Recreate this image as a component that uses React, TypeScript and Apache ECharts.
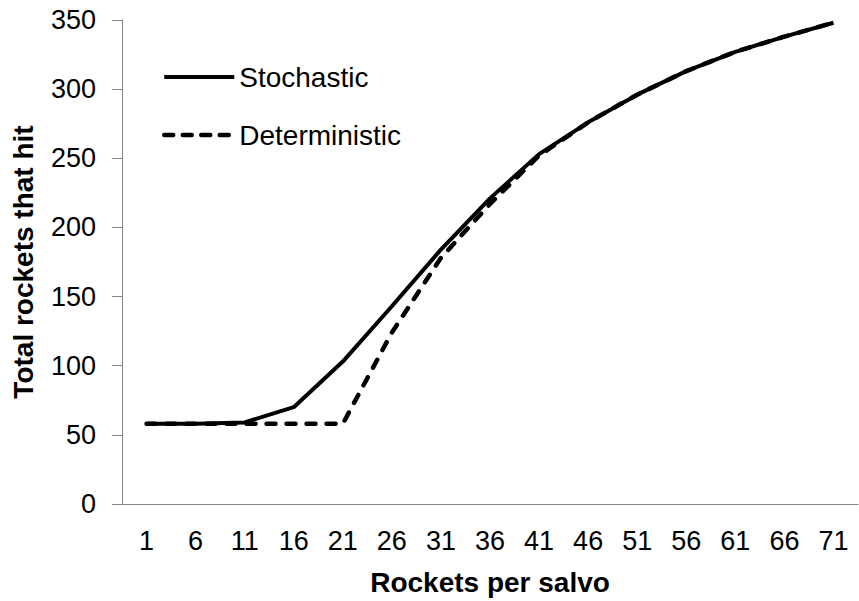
import React, { useEffect, useRef } from "react";
import * as echarts from "echarts";

const categories = ["1", "6", "11", "16", "21", "26", "31", "36", "41", "46", "51", "56", "61", "66", "71"];
const stochastic = [58, 58, 59, 70, 103, 143, 184, 221, 253, 276, 296, 313, 327, 338, 348];
const deterministic = [58, 58, 58, 58, 58, 124, 178, 217, 252, 276, 296, 313, 327, 338, 348];
const yTicks = { min: 0, max: 350, interval: 50 };

const FONT = "'Liberation Sans', Arial, sans-serif";

export default function App() {
  const ref = useRef<HTMLDivElement>(null);
  useEffect(() => {
    document.body.style.margin = "0";
    const chart = echarts.init(ref.current!, undefined, { renderer: "svg" });
    chart.setOption({
      animation: false,
      backgroundColor: "#ffffff",
      textStyle: { fontFamily: FONT },
      grid: { left: 122, right: 1, top: 20, bottom: 96, containLabel: false },
      legend: {
        orient: "vertical",
        left: 162,
        top: 62,
        padding: 0,
        itemWidth: 70,
        itemHeight: 14,
        itemGap: 28,
        itemStyle: { opacity: 0 },
        textStyle: { fontSize: 28, color: "#000", fontFamily: FONT, lineHeight: 30 },
        data: [
          { name: "Stochastic", lineStyle: { width: 4, color: "#000" } },
          { name: "Deterministic", lineStyle: { width: 4.5, color: "#000", type: [9, 9.5], cap: "round" } },
        ],
      },
      xAxis: {
        type: "category",
        data: categories,
        boundaryGap: true,
        name: "Rockets per salvo",
        nameLocation: "middle",
        nameGap: 64,
        nameTextStyle: { fontSize: 28, fontWeight: "bold", color: "#000", fontFamily: FONT },
        axisLine: { lineStyle: { color: "#868686", width: 1 } },
        axisTick: { show: false },
        axisLabel: { fontSize: 27, color: "#000", margin: 23, interval: 0, fontFamily: FONT },
        splitLine: { show: false },
      },
      yAxis: {
        type: "value",
        min: yTicks.min,
        max: yTicks.max,
        interval: yTicks.interval,
        name: "Total rockets that hit",
        nameLocation: "middle",
        nameGap: 85,
        nameTextStyle: { fontSize: 28, fontWeight: "bold", color: "#000", fontFamily: FONT },
        axisLine: { show: true, lineStyle: { color: "#868686", width: 1 } },
        axisTick: { show: true, length: 10, lineStyle: { color: "#868686" } },
        axisLabel: { fontSize: 27, color: "#000", margin: 26, fontFamily: FONT },
        splitLine: { show: false },
      },
      series: [
        {
          name: "Deterministic",
          type: "line",
          data: deterministic,
          symbol: "none",
          lineStyle: { color: "#000", width: 4.5, type: [9, 11], cap: "round" },
          itemStyle: { color: "#000" },
          z: 2,
        },
        {
          name: "Stochastic",
          type: "line",
          data: stochastic,
          symbol: "none",
          lineStyle: { color: "#000", width: 4, type: "solid" },
          itemStyle: { color: "#000" },
          z: 3,
        },
      ],
    });
    return () => chart.dispose();
  }, []);
  return <div ref={ref} style={{ width: 859, height: 601 }} />;
}
